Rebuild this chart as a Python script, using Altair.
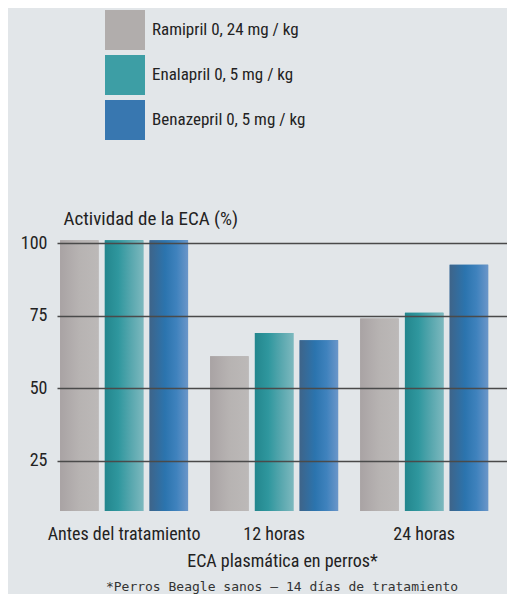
import altair as alt
import pandas as pd

groups = ["Antes del tratamiento", "12 horas", "24 horas"]
series = ["Ramipril 0, 24 mg / kg", "Enalapril 0, 5 mg / kg", "Benazepril  0, 5 mg / kg"]
ramipril = [101, 61, 74]
enalapril = [101, 69, 76]
benazepril = [101, 66.5, 92.5]
y_ticks = [25, 50, 75, 100]
y_domain = [7.6, 105.2]

solid = ["#b1adac", "#3d9ea5", "#3877b0"]
grad_stops = [
    [("#a9a3a4", 0), ("#b7b3b2", 0.5), ("#bcb9b8", 1)],
    [("#23868d", 0), ("#2f979e", 0.35), ("#5aa8af", 0.7), ("#7cb8be", 1)],
    [("#3e6489", 0), ("#2b74ae", 0.4), ("#3f82bd", 0.7), ("#6b96c9", 1)],
]

rows = []
for s, vals in zip(series, [ramipril, enalapril, benazepril]):
    for g, v in zip(groups, vals):
        rows.append({"grupo": g, "serie": s, "valor": v})
df = pd.DataFrame(rows)

NARROW = "Liberation Sans Narrow, Arial Narrow, Roboto Condensed, sans-serif"

x_enc = alt.X(
    "grupo:N",
    sort=groups,
    scale=alt.Scale(paddingInner=0.147, paddingOuter=0.073, align=0.14),
    axis=alt.Axis(
        title="ECA plasmática en perros*",
        labelAngle=0,
        labelFont=NARROW,
        labelFontSize=18,
        labelColor="#222222",
        labelPadding=14,
        ticks=False,
        domain=False,
        titleFont=NARROW,
        titleFontSize=18,
        titleFontWeight="normal",
        titleColor="#222222",
        titlePadding=9,
    ),
)
xo_enc = alt.XOffset("serie:N", sort=series, scale=alt.Scale(domain=series, paddingInner=0.14, paddingOuter=0))
y_enc = alt.Y(
    "valor:Q",
    scale=alt.Scale(domain=y_domain, zero=False, nice=False),
    axis=alt.Axis(
        values=y_ticks,
        title="Actividad de la ECA (%)",
        titleAngle=0,
        titleAlign="left",
        titleBaseline="alphabetic",
        titleX=6,
        titleY=-4,
        titleFont=NARROW,
        titleFontSize=19,
        titleFontWeight="normal",
        titleColor="#222222",
        labelFont=NARROW,
        labelFontSize=18,
        labelColor="#222222",
        labelPadding=10,
        ticks=False,
        domain=False,
        grid=True,
        gridColor="#4a4a4a",
        gridWidth=1.3,
        zindex=1,
    ),
)

base = alt.Chart(df).mark_bar(clip=True).encode(
    x=x_enc,
    xOffset=xo_enc,
    y=y_enc,
    color=alt.Color(
        "serie:N",
        sort=series,
        scale=alt.Scale(domain=series, range=solid),
        legend=alt.Legend(
            title=None,
            orient="none",
            legendX=48,
            legendY=-218,
            direction="vertical",
            symbolType="square",
            symbolSize=1600,
            symbolStrokeWidth=0,
            symbolOpacity=1,
            rowPadding=5,
            labelOffset=7,
            labelFont=NARROW,
            labelFontSize=17,
            labelColor="#222222",
            padding=0,
        ),
    ),
)

layers = [base]
for s, stops in zip(series, grad_stops):
    grad = alt.Gradient(
        gradient="linear",
        stops=[alt.GradientStop(color=c, offset=o) for c, o in stops],
        x1=0, x2=1, y1=0, y2=0,
    )
    layers.append(
        alt.Chart(df)
        .transform_filter(alt.datum.serie == s)
        .mark_bar(fill=grad, clip=True)
        .encode(x=x_enc, xOffset=xo_enc, y=y_enc)
    )

chart = (
    alt.layer(*layers)
    .properties(
        width=450,
        height=283,
        padding={"left": 49, "top": 220, "right": 0, "bottom": 83},
        autosize=alt.AutoSizeParams(type="none"),
        title=alt.TitleParams(
            text="*Perros Beagle  sanos – 14 días de tratamiento",
            orient="bottom",
            anchor="middle",
            font="DejaVu Sans Mono",
            fontSize=13,
            fontWeight="normal",
            color="#333333",
            offset=11,
        ),
    )
    .configure(background="#e2e6e9")
    .configure_view(stroke=None)
)

chart.save("out.html", embed_options={"renderer": "svg", "actions": False})
